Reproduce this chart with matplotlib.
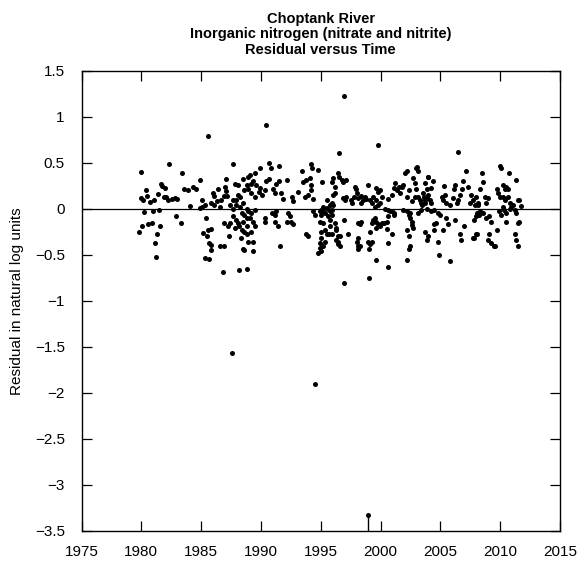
import matplotlib
matplotlib.use("Agg")
import matplotlib.pyplot as plt
from matplotlib.ticker import MultipleLocator, FuncFormatter

# ---------------- data: (decimal year, residual in natural log units) ----------------
pts_1979_1985 = [
    (1979.94, 0.40), (1981.67, 0.27), (1981.75, 0.25), (1980.38, 0.20), (1980.47, 0.14),
    (1979.96, 0.12), (1980.15, 0.10), (1981.38, 0.16), (1981.05, 0.10), (1980.70, 0.07),
    (1981.90, 0.13), (1981.47, -0.01), (1980.97, -0.03), (1980.20, -0.04), (1981.55, -0.19),
    (1980.55, -0.17), (1980.88, -0.16), (1980.02, -0.19), (1979.80, -0.25), (1981.33, -0.28),
    (1981.13, -0.37), (1981.25, -0.52), (1982.30, 0.49), (1983.40, 0.39), (1981.95, 0.23),
    (1984.90, 0.31), (1983.60, 0.21), (1983.90, 0.20), (1984.35, 0.24), (1984.53, 0.21),
    (1982.10, 0.13), (1982.20, 0.10), (1982.60, 0.11), (1983.00, 0.11), (1982.80, 0.12),
    (1984.10, 0.03), (1982.90, -0.08), (1983.30, -0.16),
]
pts_1985_1989 = [
    (1985.57, 0.79), (1987.66, 0.49), (1985.07, 0.10), (1984.90, 0.01), (1985.10, 0.02),
    (1985.30, 0.04), (1986.00, 0.17), (1986.10, 0.14), (1986.40, 0.21), (1985.85, 0.06),
    (1986.10, 0.04), (1986.30, 0.08), (1986.60, 0.02), (1986.70, 0.09), (1987.10, 0.32),
    (1987.00, 0.24), (1987.10, 0.19), (1986.90, 0.14), (1987.20, 0.14), (1987.80, 0.27),
    (1988.10, 0.26), (1988.10, 0.15), (1988.25, 0.13), (1987.95, 0.10), (1987.70, 0.10),
    (1988.90, 0.34), (1988.80, 0.26), (1988.90, 0.21), (1988.60, 0.20), (1987.40, 0.04),
    (1987.70, 0.00), (1987.95, 0.04), (1988.25, 0.02), (1988.50, 0.06), (1988.80, 0.00),
    (1985.40, -0.10), (1985.15, -0.26), (1985.60, -0.23), (1985.80, -0.22), (1985.50, -0.30),
    (1985.70, -0.37), (1985.80, -0.39), (1985.85, -0.45), (1985.30, -0.54), (1985.70, -0.55),
    (1986.80, -0.69), (1986.60, -0.41), (1986.90, -0.40), (1987.30, -0.30), (1986.90, -0.16),
    (1987.25, -0.19), (1987.40, -0.16), (1987.70, -0.08), (1987.95, -0.12), (1987.80, -0.21),
    (1988.10, -0.16), (1988.20, -0.19), (1988.40, -0.05), (1988.60, -0.07), (1988.80, -0.10),
    (1988.90, -0.03), (1988.45, -0.23), (1988.60, -0.25), (1988.80, -0.19), (1988.30, -0.32),
    (1988.50, -0.44), (1988.60, -0.45), (1988.20, -0.67), (1988.80, -0.65), (1988.90, -0.36),
    (1987.60, -1.57),
]
pts_1989_1996 = [
    (1990.44, 0.91), (1988.50, 0.32), (1989.06, 0.37), (1989.50, 0.39), (1989.95, 0.44),
    (1990.67, 0.50), (1990.80, 0.44), (1991.50, 0.46), (1989.20, 0.27), (1989.35, 0.30),
    (1989.60, 0.26), (1989.90, 0.22), (1989.20, 0.17), (1989.50, 0.13), (1989.80, 0.18),
    (1990.05, 0.15), (1990.30, 0.20), (1990.45, 0.30), (1990.70, 0.32), (1991.00, 0.21),
    (1991.15, 0.17), (1991.30, 0.27), (1991.55, 0.30), (1991.70, 0.17), (1991.85, 0.11),
    (1992.20, 0.31), (1992.60, 0.13), (1993.10, 0.18), (1992.70, 0.08), (1993.40, 0.41),
    (1993.50, 0.29), (1993.80, 0.31), (1994.10, 0.33), (1994.20, 0.26), (1994.20, 0.49),
    (1994.25, 0.44), (1994.80, 0.42), (1993.65, 0.13), (1993.90, 0.15), (1994.20, 0.20),
    (1994.35, 0.11), (1995.10, 0.29), (1995.50, 0.09), (1995.20, 0.02), (1995.60, 0.00),
    (1995.80, 0.04), (1995.90, -0.01), (1995.05, -0.01),
    (1989.20, -0.05), (1989.50, -0.01), (1989.05, -0.10), (1988.50, -0.14), (1989.30, -0.14),
    (1989.50, -0.19), (1988.80, -0.27), (1989.20, -0.25), (1989.30, -0.36), (1989.30, -0.46),
    (1990.30, -0.10), (1990.30, -0.14), (1990.90, -0.05), (1991.15, -0.07), (1991.30, -0.03),
    (1991.45, -0.19), (1991.60, -0.41), (1991.15, -0.14), (1992.30, -0.05), (1992.40, -0.08),
    (1992.55, -0.14), (1992.70, -0.17), (1992.15, -0.14), (1993.80, -0.28), (1993.95, -0.30),
    (1994.35, -0.03), (1994.50, -0.07), (1994.95, -0.03), (1995.05, -0.07), (1995.20, -0.02),
    (1995.35, -0.05), (1995.55, 0.01), (1995.60, -0.08), (1995.75, -0.03), (1995.90, -0.07),
    (1994.95, -0.14), (1995.05, -0.25), (1995.20, -0.16), (1995.35, -0.23), (1995.05, -0.32),
    (1995.35, -0.36), (1994.95, -0.37), (1995.55, -0.28), (1995.70, -0.27), (1994.80, -0.48),
    (1995.05, -0.46), (1995.20, -0.41), (1994.95, -0.43), (1996.30, -0.21), (1996.45, -0.36),
    (1996.20, -0.16), (1995.75, -0.12), (1994.52, -1.91),
]
pts_1996_2003 = [
    (1996.96, 1.23), (1999.75, 0.69), (1996.50, 0.60), (1996.00, 0.33), (1996.45, 0.39),
    (1996.55, 0.34), (1996.90, 0.29), (1997.15, 0.31), (1995.90, 0.29), (1996.20, 0.24),
    (1996.75, 0.31), (1996.05, 0.15), (1996.20, 0.17), (1996.90, 0.12), (1997.05, 0.10),
    (1997.15, 0.13), (1995.95, 0.06), (1996.05, 0.04),
    (1997.90, 0.24), (1997.95, 0.21), (1997.75, 0.13), (1997.50, 0.09), (1997.60, 0.06),
    (1998.00, 0.17), (1998.15, 0.12), (1998.40, 0.14), (1998.55, 0.09), (1998.70, 0.13),
    (1998.40, 0.06), (1998.80, 0.11), (1998.95, 0.26), (1999.10, 0.09), (1999.25, 0.06),
    (1999.40, 0.13), (1999.65, 0.22), (1999.80, 0.18), (1999.95, 0.20), (2000.10, 0.13),
    (1999.65, 0.09), (1999.80, 0.04), (1999.95, 0.06), (1999.50, 0.02), (2000.40, 0.00),
    (2000.65, -0.01), (2000.80, -0.03), (2001.10, -0.05), (2000.95, -0.02), (2000.65, 0.11),
    (2000.95, 0.15), (2001.10, 0.22), (2001.20, 0.28), (2001.35, 0.20), (2001.50, 0.24),
    (2001.65, 0.17), (2001.80, 0.24), (2001.90, 0.26), (2002.05, 0.39), (2002.20, 0.41),
    (2002.35, 0.20), (2002.20, 0.13), (2002.75, 0.33), (2002.90, 0.28), (2003.00, 0.44),
    (2003.05, 0.45), (2003.15, 0.41), (2003.00, 0.21), (2003.15, 0.13), (2003.30, 0.10),
    (2003.55, 0.17), (2003.85, 0.12), (2003.95, 0.35), (2002.60, 0.08), (2002.90, 0.13),
    (2003.40, 0.06), (2003.70, 0.10),
    (1995.75, -0.19), (1996.30, -0.23), (1996.45, -0.30), (1996.30, -0.34), (1996.60, -0.30),
    (1995.90, -0.28), (1996.95, -0.12), (1997.30, -0.27), (1996.60, -0.40), (1996.45, -0.38),
    (1996.96, -0.81), (1998.15, -0.16), (1998.30, -0.17), (1998.40, -0.14), (1998.15, -0.32),
    (1998.00, -0.36), (1998.15, -0.40), (1998.15, -0.44), (1998.30, -0.41), (1998.95, -0.36),
    (1999.10, -0.38), (1999.25, -0.36), (1999.05, -0.44), (1999.05, -0.75), (1999.10, -0.25),
    (1999.25, -0.16), (1999.40, -0.12), (1999.50, -0.10), (1999.65, -0.14), (1999.80, -0.17),
    (1999.95, -0.19), (2000.10, -0.16), (2000.25, -0.16), (1999.65, -0.21), (1999.65, -0.56),
    (2000.65, -0.63), (2000.50, -0.22), (2000.95, -0.28), (2000.65, -0.37), (2000.50, -0.14),
    (2000.65, -0.08), (2001.10, -0.07), (2001.90, -0.01), (2002.20, -0.03), (2002.35, -0.07),
    (2002.50, -0.10), (2002.65, -0.14), (2002.50, -0.05), (2002.20, -0.23), (2002.35, -0.30),
    (2002.60, -0.18), (2002.75, -0.21), (2002.45, -0.41), (2002.35, -0.44), (2002.25, -0.56),
    (2003.70, -0.25), (2003.95, -0.30), (2003.15, -0.05), (2003.40, -0.01), (2003.85, 0.00),
]
pts_2003_2012 = [
    (2006.50, 0.62), (2003.70, 0.28), (2004.00, 0.35), (2004.40, 0.30), (2004.25, 0.22),
    (2003.85, 0.21), (2004.00, 0.15), (2003.60, 0.13), (2004.15, 0.10), (2003.70, 0.06),
    (2003.45, 0.04), (2004.25, 0.06), (2005.30, 0.25), (2005.10, 0.13), (2005.25, 0.10),
    (2005.40, 0.15), (2005.50, 0.06), (2005.80, 0.04), (2006.10, 0.21), (2006.05, 0.12),
    (2006.20, 0.26), (2006.35, 0.06), (2006.60, 0.15), (2006.80, 0.21), (2006.90, 0.30),
    (2006.50, 0.10), (2007.15, 0.41), (2007.35, 0.24), (2007.50, 0.06), (2007.60, 0.15),
    (2007.75, 0.10), (2007.90, 0.04), (2008.00, 0.13), (2008.15, 0.06), (2008.30, 0.21),
    (2008.45, 0.39), (2008.60, 0.29), (2008.70, 0.13), (2008.85, 0.06), (2008.95, 0.12),
    (2008.15, 0.04), (2009.70, 0.21), (2009.85, 0.17), (2010.00, 0.46), (2010.10, 0.44),
    (2010.00, 0.13), (2010.20, 0.26), (2010.40, 0.21), (2010.50, 0.24), (2010.65, 0.21),
    (2010.70, 0.39), (2010.25, 0.13), (2010.40, 0.10), (2010.65, 0.13), (2010.80, 0.06),
    (2011.05, 0.04), (2011.30, 0.31), (2011.45, 0.10), (2011.60, 0.10), (2011.70, 0.03),
    (2004.25, -0.03), (2004.50, -0.01), (2004.80, -0.05), (2004.95, -0.07), (2003.85, -0.34),
    (2004.50, -0.17), (2004.65, -0.16), (2004.50, -0.23), (2004.80, -0.36), (2005.20, -0.23),
    (2005.60, -0.17), (2005.50, -0.10), (2006.20, -0.12), (2004.90, -0.50), (2005.80, -0.57),
    (2006.60, -0.28), (2006.70, -0.34), (2007.00, -0.19), (2007.85, -0.12), (2008.00, -0.08),
    (2008.10, -0.05), (2008.25, -0.07), (2008.35, -0.03), (2008.60, -0.05), (2008.80, -0.10),
    (2009.05, -0.08), (2009.20, -0.14), (2007.85, -0.32), (2008.00, -0.28), (2008.10, -0.27),
    (2007.70, -0.32), (2008.95, -0.34), (2009.05, -0.27), (2009.20, -0.37), (2009.50, -0.41),
    (2009.60, -0.41), (2009.75, -0.23), (2009.90, -0.03), (2010.05, -0.07), (2010.20, 0.02),
    (2010.30, -0.01), (2010.50, -0.05), (2010.80, 0.00), (2010.90, 0.02), (2011.20, -0.01),
    (2011.30, -0.05), (2011.45, -0.16), (2010.50, -0.14), (2011.20, -0.27), (2011.30, -0.34),
    (2011.45, -0.41), (2011.60, -0.14),
]
# censored (less-than) observation, drawn with a line to the bottom of the plot
censored_year = [1998.98]
censored_resid = [-3.33]

title_lines = ["Choptank River", "Inorganic nitrogen (nitrate and nitrite)", "Residual versus Time"]
ylabel = "Residual in natural log units"
x_range = (1975, 2015)
y_range = (-3.5, 1.5)

# ---------------- plotting ----------------
plt.rcParams['font.family'] = ['Liberation Sans', 'DejaVu Sans']

all_pts = pts_1979_1985 + pts_1985_1989 + pts_1989_1996 + pts_1996_2003 + pts_2003_2012
years = [p[0] for p in all_pts]
resid = [p[1] for p in all_pts]

fig = plt.figure(figsize=(5.79, 5.71), dpi=100)
ax = fig.add_axes([81.5 / 579, 1 - 530.7 / 571, (560 - 81.5) / 579, (530.7 - 70.7) / 571])

ax.set_xlim(*x_range)
ax.set_ylim(*y_range)
ax.axhline(0, color='black', lw=0.9, zorder=1)
ax.scatter(years, resid, s=13, c='black', linewidths=0, zorder=3)
ax.vlines(censored_year, y_range[0], censored_resid, color='black', lw=1.0, zorder=2)
ax.scatter(censored_year, censored_resid, s=13, c='black', linewidths=0, zorder=3)

ax.xaxis.set_major_locator(MultipleLocator(5))
ax.yaxis.set_major_locator(MultipleLocator(0.5))
ax.yaxis.set_major_formatter(FuncFormatter(lambda v, p: ('%g' % v).replace('-', '\u2212')))
ax.xaxis.set_major_formatter(FuncFormatter(lambda v, p: '%d' % round(v)))
ax.tick_params(direction='in', top=True, right=True, length=7, width=0.9,
               labelsize=11, colors='black')
ax.tick_params(axis='x', pad=10)
ax.tick_params(axis='y', pad=12)
for s in ax.spines.values():
    s.set_linewidth(1.0)

ax.set_ylabel(ylabel, fontsize=11, labelpad=8)
ax.set_title("\n".join(title_lines), fontsize=10.5, fontweight='bold', pad=12, linespacing=1.15)

fig.savefig("out.png", dpi=100)
